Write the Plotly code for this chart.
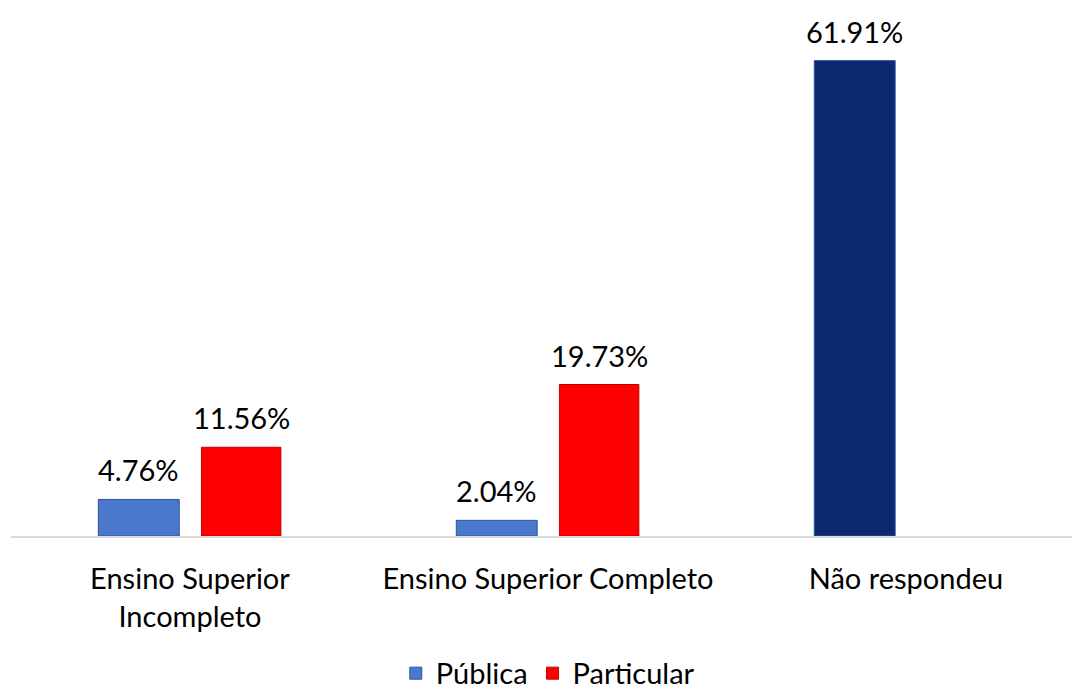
import plotly.graph_objects as go

categories = ["Ensino Superior<br>Incompleto", "Ensino Superior Completo", "Não respondeu"]
publica = [4.76, 2.04, 61.91]
particular = [11.56, 19.73, None]
publica_colors = ["#4a78cc", "#4a78cc", "#0c2870"]
series_names = ["Pública", "Particular"]

FONT = "Lato, Calibri, Carlito, sans-serif"
FS = 29

xpos = list(range(len(categories)))
OFF_PUB, W_PUB = -0.256, 0.226
OFF_PAR, W_PAR = 0.032, 0.222

fig = go.Figure()
fig.add_trace(go.Bar(
    x=xpos, y=publica, name=series_names[0],
    marker=dict(color=publica_colors, line=dict(color="#2f5597", width=1)),
    offset=OFF_PUB, width=W_PUB,
))
fig.add_trace(go.Bar(
    x=xpos, y=particular, name=series_names[1],
    marker=dict(color="#ff0000", line=dict(color="#c00000", width=1)),
    offset=OFF_PAR, width=W_PAR,
))

for series, off, w in ((publica, OFF_PUB, W_PUB), (particular, OFF_PAR, W_PAR)):
    for i, v in zip(xpos, series):
        if v is None:
            continue
        fig.add_annotation(
            x=i + off + w / 2, y=v, xref="x", yref="y",
            text=f"{v:.2f}%", showarrow=False, yanchor="bottom", yshift=10,
            font=dict(size=FS, color="#000000", family=FONT),
        )

fig.update_layout(
    width=1072, height=692,
    margin=dict(l=11, r=0, t=20, b=156, autoexpand=False),
    paper_bgcolor="white", plot_bgcolor="white",
    barmode="overlay",
    font=dict(family=FONT, size=FS, color="#000000"),
    showlegend=True,
    legend=dict(orientation="h", x=0.511, xanchor="center", xref="container",
                y=0.027, yanchor="middle", yref="container",
                font=dict(size=FS, family=FONT), itemwidth=30, traceorder="normal"),
)
fig.update_xaxes(
    range=[-0.5, 2.464], automargin=False,
    tickmode="array", tickvals=xpos, ticktext=categories,
    showline=True, linecolor="#d9d9d9", linewidth=2,
    showgrid=False, zeroline=False, ticks="", tickfont=dict(size=FS, family=FONT),
    ticklabelstandoff=16,
    fixedrange=True,
)
fig.update_yaxes(
    range=[0, 67.2], visible=False, showgrid=False, zeroline=False, fixedrange=True,
    automargin=False,
)

fig.write_html("out.html", config={"displayModeBar": False},
               post_script="document.body.style.margin='0';")
